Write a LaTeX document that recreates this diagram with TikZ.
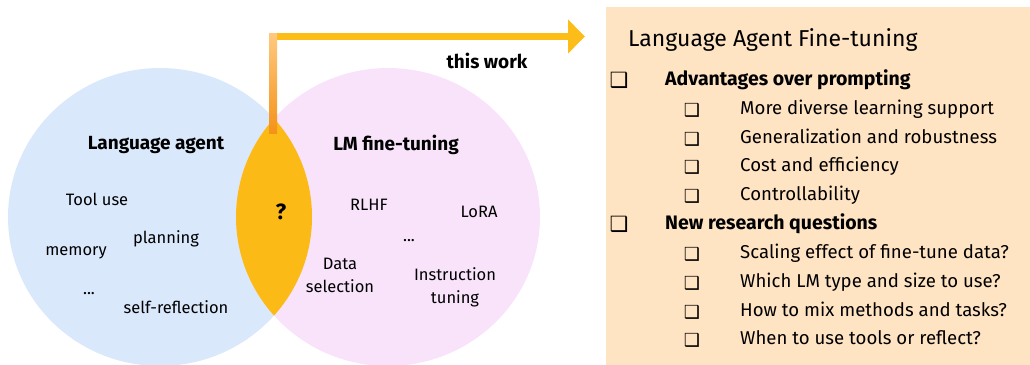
\documentclass[tikz,border=0pt]{standalone}
\usepackage{fontspec}
\setmainfont{Fira Sans}
\newfontfamily\symfont{DejaVu Sans}
\usetikzlibrary{positioning,arrows.meta}
\definecolor{agentblue}{HTML}{DAE8FC}
\definecolor{tunepink}{HTML}{F8E3FB}
\definecolor{lensgold}{HTML}{FBBA16}
\definecolor{barlight}{HTML}{FFC97F}
\definecolor{bardark}{HTML}{F4921A}
\definecolor{arrowgold}{HTML}{FDBD18}
\definecolor{panelpeach}{HTML}{FFE4C4}

\tikzset{
  vennhead/.style={font=\fontsize{19}{22}\selectfont\bfseries, inner sep=0pt},
  vennitem/.style={font=\fontsize{16.5}{23}\selectfont, align=center, inner sep=0pt},
  mainbox/.style={font=\symfont\bfseries\fontsize{21}{21}\selectfont, inner sep=0pt},
  subbox/.style={font=\symfont\bfseries\fontsize{18}{18}\selectfont, inner sep=0pt},
  mainitem/.style={anchor=west, font=\fontsize{19.5}{22}\selectfont\bfseries, inner sep=0pt, text height=0.72em, text depth=0.22em},
  subitem/.style={anchor=west, font=\fontsize{18.6}{22}\selectfont, inner sep=0pt, text height=0.72em, text depth=0.22em}
}

\begin{document}
\begin{tikzpicture}[x=1pt,y=-1pt]
    \newcommand{\vennrx}{152}
    \newcommand{\vennry}{149}
    \useasboundingbox (0,0) rectangle (1030,364);
    \begin{scope}
    \clip (0,0) rectangle (1030,364);

    \fill [agentblue] (160,217) ellipse ({\vennrx} and {\vennry});
    \fill [tunepink] (388,217) ellipse ({\vennrx} and {\vennry});
    \begin{scope}
    \clip (160,217) ellipse ({\vennrx} and {\vennry});
    \fill [lensgold] (388,217) ellipse ({\vennrx} and {\vennry});
    \end{scope}

    \fill [panelpeach] (606,7) rectangle (1040,370);
    \end{scope}

    \coordinate (lenstop) at (273,133);
    \coordinate (corner) at (269,36.5);
    \coordinate (worktip) at (585,36.5);
    \draw [arrowgold, line width=7pt, -{Triangle[length=17pt,width=33pt]}] (corner) -- (worktip);
    \shade [top color=barlight, bottom color=bardark] (269,33) rectangle (277,133);
    \node [vennhead] (thiswork) at (487,61) {this work};

    \node [vennhead] (agent) at (156,145) {Language agent};
    \node [vennhead] (tuning) at (396,145) {LM fine-tuning};
    \node [vennhead, font=\fontsize{22}{22}\selectfont\bfseries] (question) at (281,212) {?};

    \node [vennitem] (tooluse) at (97,199) {Tool use};
    \node [vennitem] (planning) at (166,239) {planning};
    \node [vennitem] (memory) at (76,253) {memory};
    \node [vennitem] (agentmore) at (89,294) {...};
    \node [vennitem] (reflection) at (176,307) {self-reflection};

    \node [vennitem] (rlhf) at (369,205) {RLHF};
    \node [vennitem] (lora) at (479,212) {LoRA};
    \node [vennitem] (tunemore) at (409,241) {...};
    \node [vennitem] (dataselect) at (340,275) {Data\\selection};
    \node [vennitem] (instruct) at (455,287) {Instruction\\tuning};

    \node [anchor=west, font=\fontsize{23}{26}\selectfont, inner sep=0pt] (paneltitle) at (628,40) {Language Agent Fine-tuning};

    \node [mainbox] (advbox) at (619,80) {❑};
    \node [mainitem] (adv) at (665,83) {Advantages over prompting};
    \foreach \i/\ypos/\txt in {1/112/More diverse learning support,2/141/Generalization and robustness,3/169/Cost and efficiency,4/198/Controllability}{
      \node [subbox] (advbox\i) at (692,\ypos-2) {❑};
      \node [subitem] (adv\i) at (740,\ypos) {\txt};
    }

    \node [mainbox] (quesbox) at (619,224) {❑};
    \node [mainitem] (ques) at (665,227) {New research questions};
    \foreach \i/\ypos/\txt in {1/256/Scaling effect of fine-tune data?,2/285/Which LM type and size to use?,3/314/How to mix methods and tasks?,4/342/When to use tools or reflect?}{
      \node [subbox] (quesbox\i) at (692,\ypos-2) {❑};
      \node [subitem] (ques\i) at (740,\ypos) {\txt};
    }
\end{tikzpicture}
\end{document}
